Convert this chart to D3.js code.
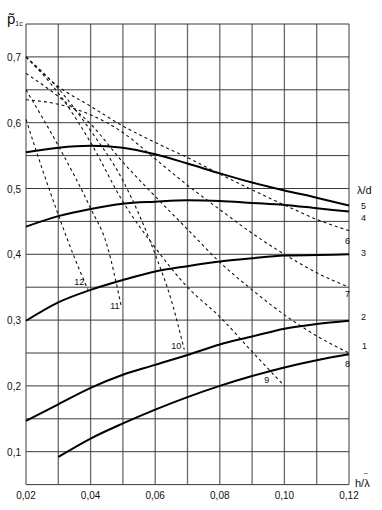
<!DOCTYPE html>
<html>
<head>
<meta charset="utf-8">
<script src="https://cdn.jsdelivr.net/npm/d3@7"></script>
<style>
  body { margin: 0; background: #fff; }
  svg text { font-family: "Liberation Sans", Arial, sans-serif; fill: #111; }
</style>
</head>
<body>
<div id="chart"></div>
<script>
var width = 382, height = 510

// h/lambda positions where the solid curves were read
var hSteps = [0.02, 0.03, 0.04, 0.05, 0.06, 0.07, 0.08, 0.09, 0.10, 0.11, 0.12]

// solid curves, lambda/d = 1..5
var curve1 = [null, 0.092, 0.120, 0.143, 0.164, 0.183, 0.200, 0.215, 0.228, 0.239, 0.248]
var curve2 = [0.147, 0.172, 0.197, 0.217, 0.232, 0.247, 0.263, 0.275, 0.287, 0.294, 0.299]
var curve3 = [0.299, 0.327, 0.346, 0.361, 0.374, 0.382, 0.389, 0.394, 0.398, 0.399, 0.400]
var curve4 = [0.442, 0.458, 0.469, 0.477, 0.480, 0.482, 0.481, 0.478, 0.475, 0.470, 0.465]
var curve5 = [0.555, 0.562, 0.565, 0.562, 0.552, 0.538, 0.523, 0.509, 0.497, 0.486, 0.474]

// dashed curves 6..12, [h/lambda, p]
var curve6 = [[0.02,0.700],[0.03,0.655],[0.04,0.625],[0.05,0.595],[0.06,0.570],[0.07,0.547],[0.08,0.522],[0.09,0.498],[0.10,0.475],[0.11,0.453],[0.12,0.436]]
var curve7 = [[0.02,0.635],[0.03,0.628],[0.04,0.612],[0.05,0.585],[0.06,0.545],[0.07,0.505],[0.08,0.468],[0.09,0.432],[0.10,0.400],[0.11,0.372],[0.12,0.350]]
var curve8 = [[0.02,0.675],[0.03,0.640],[0.04,0.598],[0.05,0.540],[0.06,0.488],[0.07,0.438],[0.08,0.388],[0.09,0.346],[0.10,0.308],[0.11,0.276],[0.12,0.250]]
var curve9 = [[0.02,0.700],[0.03,0.645],[0.04,0.570],[0.05,0.480],[0.06,0.410],[0.07,0.350],[0.08,0.305],[0.09,0.252],[0.10,0.200]]
var curve10 = [[0.02,0.700],[0.03,0.652],[0.04,0.588],[0.05,0.512],[0.06,0.400],[0.065,0.330],[0.069,0.255]]
var curve11 = [[0.02,0.650],[0.03,0.565],[0.04,0.470],[0.045,0.415],[0.0494,0.323]]
var curve12 = [[0.02,0.605],[0.025,0.530],[0.03,0.460],[0.035,0.395],[0.0392,0.346]]

var xTicks = [0.02, 0.04, 0.06, 0.08, 0.10, 0.12]
var yTicks = [0.1, 0.2, 0.3, 0.4, 0.5, 0.6, 0.7]

var svg = d3.select("#chart").append("svg").attr("width", width).attr("height", height)

var x = d3.scaleLinear().domain([0.02, 0.12]).range([26, 349])
var y = d3.scaleLinear().domain([0.05, 0.75]).range([484.6, 24])

var fmt = function(v) { return d3.format(".2f")(v).replace(".", ",") }

// grid: verticals every 0.01, horizontals every 0.05
var grid = svg.append("g")
grid.selectAll(".vl").data(d3.range(0, 11)).enter().append("line")
  .attr("x1", function(i) { return x(0.02 + i * 0.01) }).attr("x2", function(i) { return x(0.02 + i * 0.01) })
  .attr("y1", y(0.75)).attr("y2", y(0.05))
  .attr("stroke", "#6a6a6a").attr("stroke-width", 1.3)
grid.selectAll(".hl").data(d3.range(0, 15)).enter().append("line")
  .attr("x1", x(0.02)).attr("x2", x(0.12))
  .attr("y1", function(i) { return y(0.05 + i * 0.05) }).attr("y2", function(i) { return y(0.05 + i * 0.05) })
  .attr("stroke", "#3a3a3a").attr("stroke-width", 1)

// tick labels
svg.selectAll(".xt").data(xTicks).enter().append("text")
  .attr("x", function(d) { return x(d) }).attr("y", 499)
  .attr("text-anchor", "middle").attr("font-size", 10)
  .text(function(d) { return fmt(d) })
svg.selectAll(".yt").data(yTicks).enter().append("text")
  .attr("x", 21).attr("y", function(d) { return y(d) + 4 })
  .attr("text-anchor", "end").attr("font-size", 10)
  .text(function(d) { return fmt(d).replace(/0$/, "") })

// axis titles
var yt = svg.append("text").attr("x", 7).attr("y", 24).attr("font-size", 15)
yt.append("tspan").text("p\u0303")
yt.append("tspan").attr("font-size", 7).attr("dy", 2).text("1c")
var xt = svg.append("text").attr("x", 355).attr("y", 487).attr("font-size", 11)
xt.append("tspan").text("h/λ")
xt.append("tspan").attr("dx", -6).attr("dy", -11).attr("font-size", 7).text("~")
svg.append("text").attr("x", 357).attr("y", 194).attr("font-size", 11).text("λ/d")

// solid curves
var solid = [curve1, curve2, curve3, curve4, curve5]
var line = d3.line()
  .defined(function(d) { return d != null })
  .x(function(d, i) { return x(hSteps[i]) })
  .y(function(d) { return y(d) })
  .curve(d3.curveMonotoneX)
svg.selectAll(".solid").data(solid).enter().append("path")
  .attr("d", line).attr("fill", "none").attr("stroke", "#000").attr("stroke-width", 2)

// dashed curves
var dashed = [curve6, curve7, curve8, curve9, curve10, curve11, curve12]
var dline = d3.line()
  .x(function(d) { return x(d[0]) })
  .y(function(d) { return y(d[1]) })
  .curve(d3.curveMonotoneX)
svg.selectAll(".dashed").data(dashed).enter().append("path")
  .attr("d", dline).attr("fill", "none").attr("stroke", "#111")
  .attr("stroke-width", 1.1).attr("stroke-dasharray", "3,3")

// curve numbers
var labels = [
  {t: "5", x: 0.1245, y: 0.469}, {t: "4", x: 0.1245, y: 0.450},
  {t: "3", x: 0.1245, y: 0.397}, {t: "2", x: 0.1245, y: 0.300},
  {t: "1", x: 0.1248, y: 0.256},
  {t: "6", x: 0.1195, y: 0.416}, {t: "7", x: 0.1195, y: 0.335},
  {t: "8", x: 0.1195, y: 0.229}, {t: "9", x: 0.0945, y: 0.205},
  {t: "10", x: 0.0665, y: 0.256}, {t: "11", x: 0.0475, y: 0.317},
  {t: "12", x: 0.0365, y: 0.354}
]
svg.selectAll(".lab").data(labels).enter().append("text")
  .attr("x", function(d) { return x(d.x) }).attr("y", function(d) { return y(d.y) })
  .attr("text-anchor", "middle").attr("font-size", 9)
  .text(function(d) { return d.t })
</script>
</body>
</html>
